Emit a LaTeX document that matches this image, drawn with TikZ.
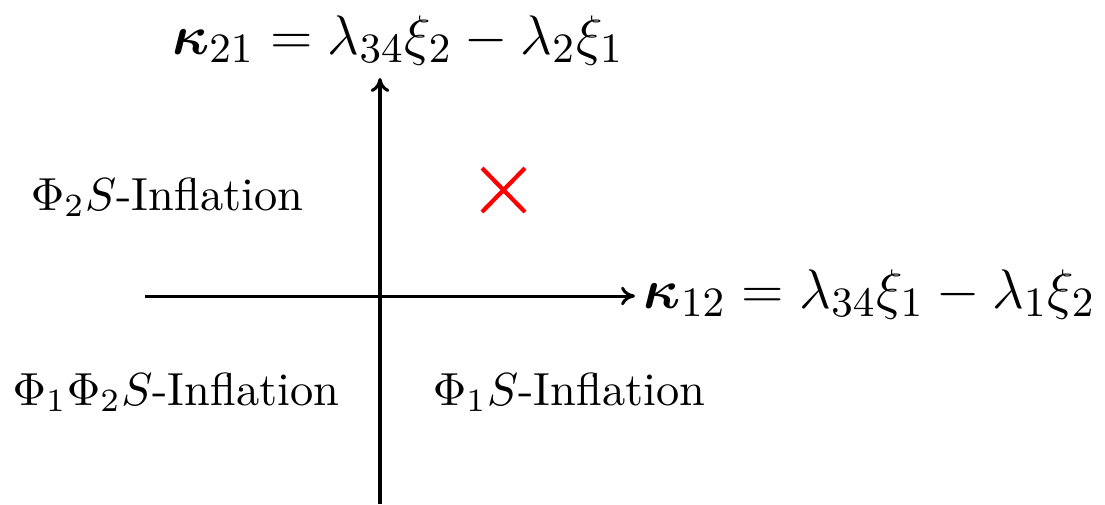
\documentclass[tikz,border=0pt]{standalone}
\usepackage{amsmath,amssymb,bm}
\usetikzlibrary{arrows.meta}
\begin{document}
\begin{tikzpicture}[x=0.2155pt,y=-0.2155pt,
  axis/.style={line width=0.65pt,-{To[length=3pt,width=4pt]}},
  axlabel/.style={inner sep=0pt,font=\fontsize{12.5}{15}\selectfont},
  region/.style={inner sep=0pt,font=\fontsize{10}{12}\selectfont},
  cross/.style={red,line width=0.9pt}]
\useasboundingbox (0,0) rectangle (1105,504);
\coordinate (vb) at (380,504);
\coordinate (vt) at (380,78);
\coordinate (hl) at (145,296);
\coordinate (hr) at (635,296);
\draw[axis] (vb) -- (vt);
\draw[axis] (hl) -- (hr);
\node[axlabel,anchor=base] (ky) at (398,54) {$\bm{\kappa}_{21}=\lambda_{34}\xi_2-\lambda_2\xi_1$};
\node[axlabel,anchor=base west] (kx) at (643,308) {$\bm{\kappa}_{12}=\lambda_{34}\xi_1-\lambda_1\xi_2$};
\node[region,anchor=base] (r2) at (167,210) {$\Phi_2S$-Inflation};
\node[region,anchor=base] (r12) at (176,405) {$\Phi_1\Phi_2S$-Inflation};
\node[region,anchor=base] (r1) at (569,405) {$\Phi_1S$-Inflation};
\coordinate (c1) at (482,168);
\coordinate (c2) at (525,212);
\coordinate (c3) at (482,212);
\coordinate (c4) at (525,168);
\draw[cross] (c1) -- (c2) (c3) -- (c4);
\end{tikzpicture}
\end{document}
